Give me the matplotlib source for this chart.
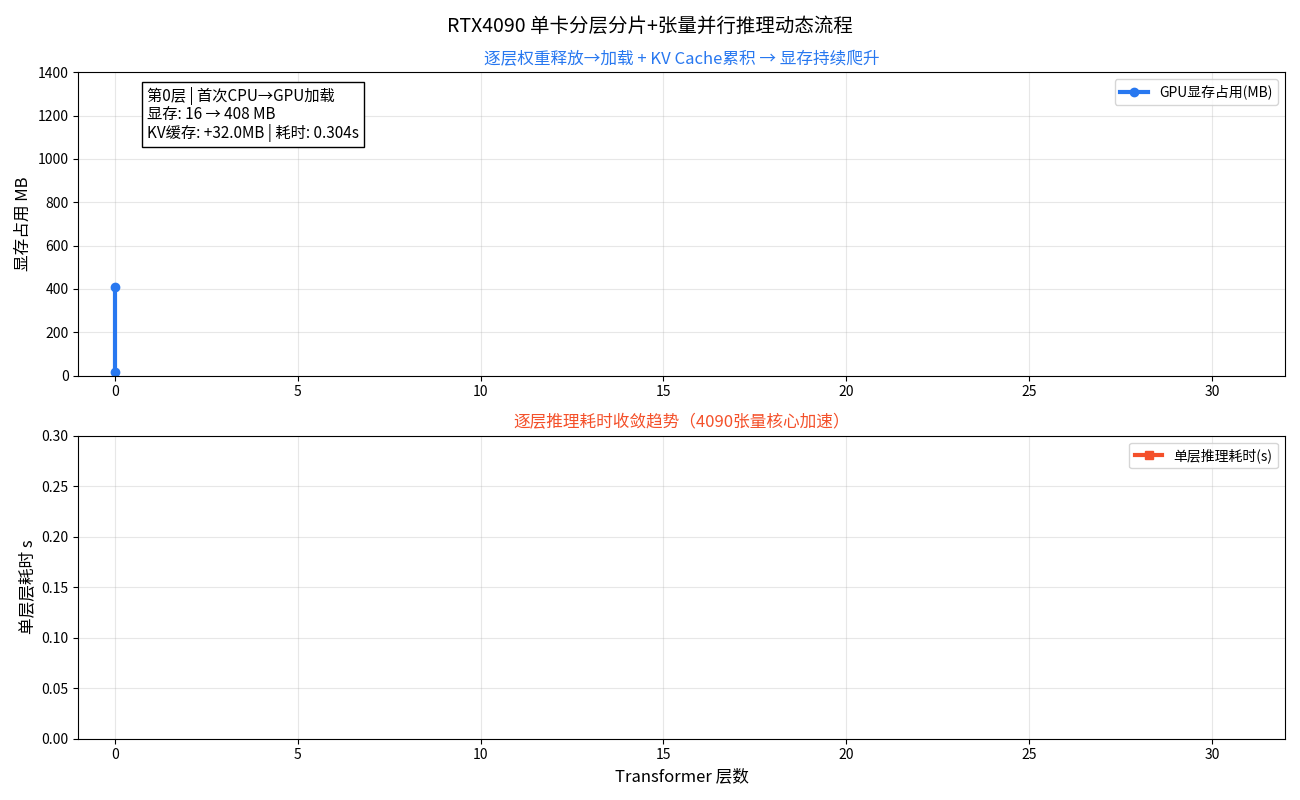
import matplotlib
matplotlib.use('Agg')
import matplotlib.pyplot as plt

plt.rcParams['font.family'] = ['Noto Sans CJK SC', 'DejaVu Sans']
plt.rcParams['axes.unicode_minus'] = False

# 已完成的层 (只到第0层)
layers = [0, 0]
mem_mb = [16, 408]
time_layers = []
time_s = []

info_text = "第0层 | 首次CPU→GPU加载\n显存: 16 → 408 MB\nKV缓存: +32.0MB | 耗时: 0.304s"

blue = '#2878f0'
red = '#f4502a'

fig, (ax1, ax2) = plt.subplots(2, 1, figsize=(13, 8), dpi=100)
fig.suptitle("RTX4090 单卡分层分片+张量并行推理动态流程", fontsize=14)

ax1.plot(layers, mem_mb, color=blue, linewidth=3, marker='o', markersize=6, label='GPU显存占用(MB)')
ax1.set_xlim(-1, 32)
ax1.set_ylim(0, 1400)
ax1.set_ylabel("显存占用 MB", fontsize=12)
ax1.set_title("逐层权重释放→加载 + KV Cache累积 → 显存持续爬升", color=blue, fontsize=12)
ax1.grid(alpha=0.3)
ax1.legend(loc='upper right')
ax1.text(0.057, 0.95, info_text, transform=ax1.transAxes, fontsize=11, va='top', ha='left',
         linespacing=1.05,
         bbox=dict(boxstyle='square,pad=0.35', facecolor='white', edgecolor='black'))

ax2.plot(time_layers, time_s, color=red, linewidth=3, marker='s', markersize=6, label='单层推理耗时(s)')
ax2.set_xlim(-1, 32)
ax2.set_ylim(0, 0.3)
ax2.set_xlabel("Transformer 层数", fontsize=12)
ax2.set_ylabel("单层层耗时 s", fontsize=12)
ax2.set_title("逐层推理耗时收敛趋势（4090张量核心加速）", color=red, fontsize=12)
ax2.grid(alpha=0.3)
ax2.legend(loc='upper right')

plt.tight_layout()
plt.savefig('out.png')
